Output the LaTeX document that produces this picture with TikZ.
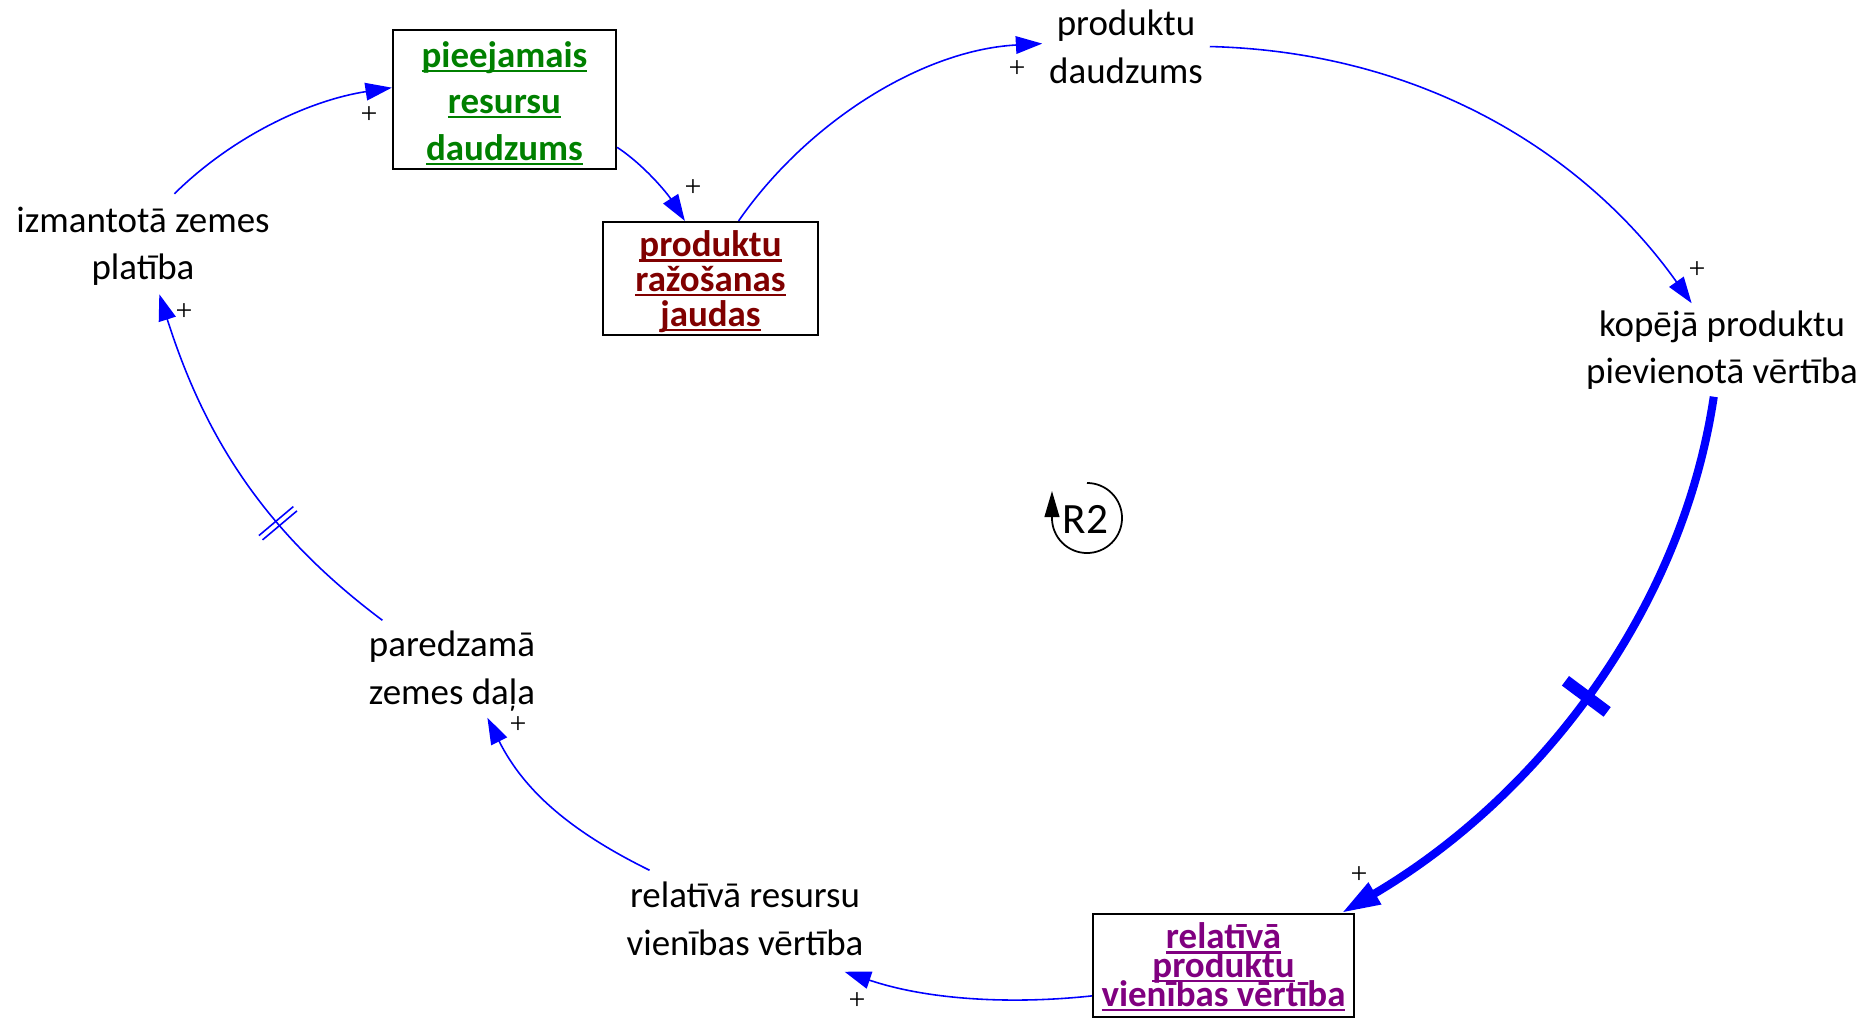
\documentclass[tikz,border=0pt]{standalone}
\usepackage{fontspec}
\setmainfont{Carlito}
\newfontfamily\plusfont{Liberation Serif}
\usetikzlibrary{arrows.meta,decorations.markings}
\definecolor{lnkblue}{RGB}{0,0,255}
\definecolor{vgreen}{RGB}{0,128,0}
\definecolor{vred}{RGB}{128,0,0}
\definecolor{vpurple}{RGB}{128,0,128}
\newcommand\myul[1]{\setbox0=\hbox{#1}\rlap{\rule[-1.3pt]{\wd0}{0.6pt}}\box0}
% strut: height #1 above baseline, depth #2 below
\newcommand\vstr[2]{\rule[-#2]{0pt}{\dimexpr#1+#2\relax}}
\begin{document}
\begin{tikzpicture}[x=0.01cm,y=-0.01cm,
  txt/.style={align=center, inner sep=0pt, font={\fontsize{10.5}{13.4}\selectfont\lineskiplimit=-20pt}},
  boxg/.style={draw=black, line width=0.6pt, inner sep=0pt, align=center, text=vgreen,
    font={\bfseries\fontsize{10.5}{13.2}\selectfont\lineskiplimit=-20pt}},
  boxr/.style={draw=black, line width=0.6pt, inner sep=0pt, align=center, text=vred,
    font={\bfseries\fontsize{10.5}{9.82}\selectfont\lineskiplimit=-20pt}},
  boxp/.style={draw=black, line width=0.6pt, inner sep=0pt, align=center, text=vpurple,
    font={\bfseries\fontsize{10.5}{8.17}\selectfont\lineskiplimit=-20pt}},
  pls/.style={inner sep=0pt, font={\plusfont\fontsize{8.5}{10}\selectfont}},
  lnk/.style={draw=lnkblue, line width=0.45pt, -{Triangle[length=7.5pt,width=5pt]}},
  thk/.style={draw=lnkblue, line width=2.3pt, -{Triangle[length=11pt,width=6.6pt]}},
  dbldelay/.style={postaction={decorate}, decoration={markings, mark=at position #1 with {
      \draw[-, draw=lnkblue, line width=0.45pt] (-0.8pt,-6.4pt) -- (-0.8pt,6.4pt);
      \draw[-, draw=lnkblue, line width=0.45pt] (0.8pt,-6.4pt) -- (0.8pt,6.4pt);}}},
  thkdelay/.style={postaction={decorate}, decoration={markings, mark=at position #1 with {
      \draw[-, draw=lnkblue, line width=3.4pt] (0pt,-7.4pt) -- (0pt,7.4pt);}}}
]
\useasboundingbox (0,0) rectangle (1866,1018);

% variables
\node[txt, minimum width=2.8cm, minimum height=0.99cm] (izm) at (143,244)
  {\vstr{9.96pt}{0pt}izmantotā zemes\\platība\vstr{0pt}{3pt}};
\node[txt, minimum width=1.66cm, minimum height=1.0cm] (prod) at (1126,48)
  {\vstr{9.56pt}{0pt}produktu\\daudzums\vstr{0pt}{3pt}};
\node[txt, minimum width=2.8cm, minimum height=0.92cm] (kop) at (1722,350)
  {\vstr{8.8pt}{0pt}kopējā produktu\\pievienotā vērtība\vstr{0pt}{3pt}};
\node[txt, minimum width=2.4cm, minimum height=1.0cm] (relres) at (745,921)
  {\vstr{9pt}{0pt}relatīvā resursu\\vienības vērtība\vstr{0pt}{3pt}};
\node[txt, minimum width=1.8cm, minimum height=0.96cm] (pared) at (452,669)
  {\vstr{9.56pt}{0pt}paredzamā\\zemes daļa\vstr{0pt}{3pt}};

\node[boxg, minimum width=2.23cm, minimum height=1.39cm] (pie) at (504.5,99.5)
  {\vstr{9.57pt}{0pt}\myul{pieejamais}\\\myul{resursu}\\\myul{daudzums}\vstr{0pt}{1.5pt}};
\node[boxr, minimum width=2.15cm, minimum height=1.13cm] (raz) at (710.5,278.5)
  {\vstr{9.17pt}{0pt}\myul{produktu}\\\myul{ražošanas}\\\myul{jaudas}\vstr{0pt}{1.5pt}};
\node[boxp, minimum width=2.61cm, minimum height=1.03cm] (rel) at (1223.5,965.5)
  {\vstr{8.43pt}{0pt}\myul{relatīvā}\\\myul{produktu}\\\myul{vienības vērtība}\vstr{0pt}{1.5pt}};

% loop marker
\coordinate (r2c) at (1087,518);
\node[inner sep=0pt, font={\fontsize{12.3}{14}\selectfont}] (r2) at (1085.5,519) {R2};
\draw[black, line width=0.5pt, -{Triangle[length=7.4pt,width=4.2pt]}]
  ([shift={(90:0.35cm)}]r2c) arc[start angle=90, end angle=-180, radius=0.35cm] -- ++(0pt,0.27cm);

% connectors
\draw[lnk] (izm.58) .. controls (234,135) and (311,100) .. (pie.174);
\draw[lnk] (pie.-23) .. controls (644,165) and (667,193) .. (raz.114);
\draw[lnk] (raz.64) .. controls (808,121) and (923,50) .. (prod.177);
\draw[lnk] (prod.1) .. controls (1430,52) and (1590,160) .. (kop.123);
\draw[thk, thkdelay=0.5] (kop.-100) .. controls (1681,616) and (1534,800) .. (rel.24);
\draw[lnk] (rel.-167) .. controls (1007,1005) and (925,999) .. (relres.-27);
\draw[lnk] (relres.152) .. controls (574,833) and (525,793) .. (pared.-54);
\draw[lnk, dbldelay=0.355] (pared.145) .. controls (263,531) and (204,435) .. (izm.-72);

% polarity signs
\node[pls] (pa) at (369,115) {+};
\node[pls] (pb) at (693,188) {+};
\node[pls] (pc) at (1017,69) {+};
\node[pls] (pd) at (1697,270) {+};
\node[pls] (pe) at (1359,875) {+};
\node[pls] (pf) at (857,1001) {+};
\node[pls] (pg) at (518,725) {+};
\node[pls] (ph) at (184,312) {+};
\end{tikzpicture}
\end{document}
